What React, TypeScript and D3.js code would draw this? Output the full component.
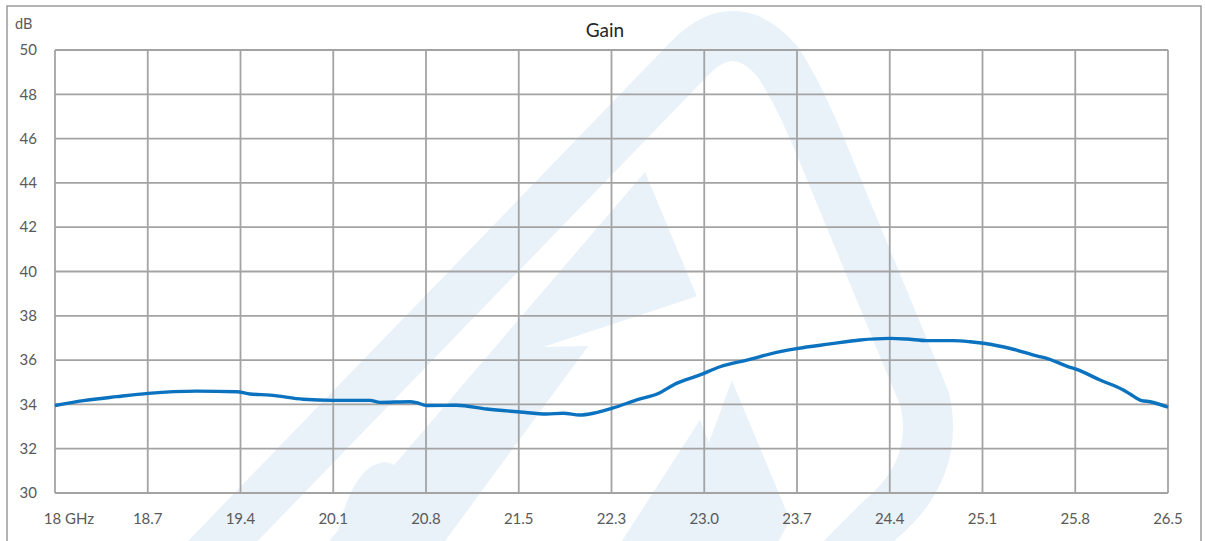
import * as d3 from 'd3';

const FREQ = [
  18.0, 18.216, 18.471, 18.713, 19.082, 19.388, 19.489, 19.642, 19.896, 20.125,
  20.406, 20.482, 20.711, 20.762, 20.839, 21.068, 21.297, 21.551, 21.755, 21.882,
  22.009, 22.111, 22.252, 22.442, 22.62, 22.722, 22.926, 23.079, 23.283, 23.537,
  23.664, 23.919, 24.148, 24.377, 24.504, 24.657, 24.86, 24.988, 25.089, 25.318,
  25.497, 25.574, 25.726, 25.803, 25.981, 26.159, 26.21, 26.299, 26.363, 26.5,
];
const GAIN = [
  33.95, 34.17, 34.35, 34.5, 34.6, 34.57, 34.47, 34.42, 34.23, 34.18,
  34.18, 34.09, 34.12, 34.08, 33.95, 33.96, 33.79, 33.66, 33.57, 33.6,
  33.52, 33.6, 33.82, 34.2, 34.53, 34.88, 35.33, 35.7, 36.0, 36.38,
  36.52, 36.73, 36.91, 36.98, 36.95, 36.88, 36.88, 36.83, 36.76, 36.49,
  36.19, 36.08, 35.73, 35.58, 35.1, 34.65, 34.47, 34.17, 34.12, 33.87,
];
const X_TICK_LABELS = [
  '18 GHz', '18.7', '19.4', '20.1', '20.8', '21.5', '22.3', '23.0', '23.7', '24.4', '25.1', '25.8', '26.5',
];
const Y_TICKS = [30, 32, 34, 36, 38, 40, 42, 44, 46, 48, 50];

const WIDTH = 1205;
const HEIGHT = 541;
const margin = { top: 50, right: 37, bottom: 48, left: 55 };
const FONT = 'Lato, "Open Sans", sans-serif';
const GRID = '#a3a3a3';
const LABEL = '#595959';
const WATERMARK = '#e9f1f9';

export default function App() {
  const x = d3.scaleLinear().domain([18, 26.5]).range([margin.left, WIDTH - margin.right]);
  const y = d3.scaleLinear().domain([30, 50]).range([HEIGHT - margin.bottom, margin.top]);

  const xTicks = X_TICK_LABELS.map((label, i) => ({ label, v: 18 + (i * 8.5) / (X_TICK_LABELS.length - 1) }));
  const points = FREQ.map((f, i) => [f, GAIN[i]] as [number, number]);

  const line = d3.line<[number, number]>()
    .x((d) => x(d[0]))
    .y((d) => y(d[1]))
    .curve(d3.curveMonotoneX);

  return (
    <svg
      width={WIDTH}
      height={HEIGHT}
      style={{ position: 'absolute', left: 0, top: 0, background: '#fff' }}
    >
      {/* faint logo watermark behind the grid */}
      <g fill={WATERMARK}>
        <path
          d="M 190 575 L 690 58 Q 735 12 778 62 Q 800 95 828 165 L 925 400 Q 940 470 880 520 L 840 560"
          fill="none"
          stroke={WATERMARK}
          strokeWidth={50}
          strokeLinejoin="round"
        />
        <path d="M 300 575 L 645 172 L 790 520 L 760 575 Z" />
        <path d="M 330 575 Q 345 465 385 462 Q 420 465 450 575 Z" />
      </g>
      <g fill="#fff">
        <path d="M 420 575 L 600 330 L 720 300 L 745 345 L 660 575 Z" />
        <path d="M 543 347 L 707 293 L 730 343 Z" />
      </g>
      <g fill={WATERMARK}>
        <path d="M 600 575 L 700 420 L 760 575 Z" />
      </g>

      <rect x={7} y={6} width={1194} height={560} fill="none" stroke="#8c8c8c" strokeWidth={1.3} />

      <text x={605} y={37} textAnchor="middle" fontFamily={FONT} fontSize={19} fill="#262626">
        Gain
      </text>
      <text x={15} y={29} fontFamily={FONT} fontSize={14.5} fill={LABEL}>
        dB
      </text>

      <g stroke={GRID} strokeWidth={1.8}>
        {Y_TICKS.map((t) => (
          <line key={t} x1={x(18)} x2={x(26.5)} y1={y(t)} y2={y(t)} />
        ))}
        {xTicks.map((t) => (
          <line key={t.label} x1={x(t.v)} x2={x(t.v)} y1={y(30)} y2={y(50)} />
        ))}
      </g>

      <g fontFamily={FONT} fontSize={15} fill={LABEL}>
        {Y_TICKS.map((t) => (
          <text key={t} x={37} y={y(t)} dy="0.35em" textAnchor="end">
            {t}
          </text>
        ))}
        {xTicks.map((t, i) => (
          <text key={t.label} x={x(t.v) + (i === 0 ? 14 : 0)} y={524} textAnchor="middle">
            {t.label}
          </text>
        ))}
      </g>

      <path d={line(points) ?? ''} fill="none" stroke="#0b72bf" strokeWidth={3.4} strokeLinejoin="round" />
    </svg>
  );
}
